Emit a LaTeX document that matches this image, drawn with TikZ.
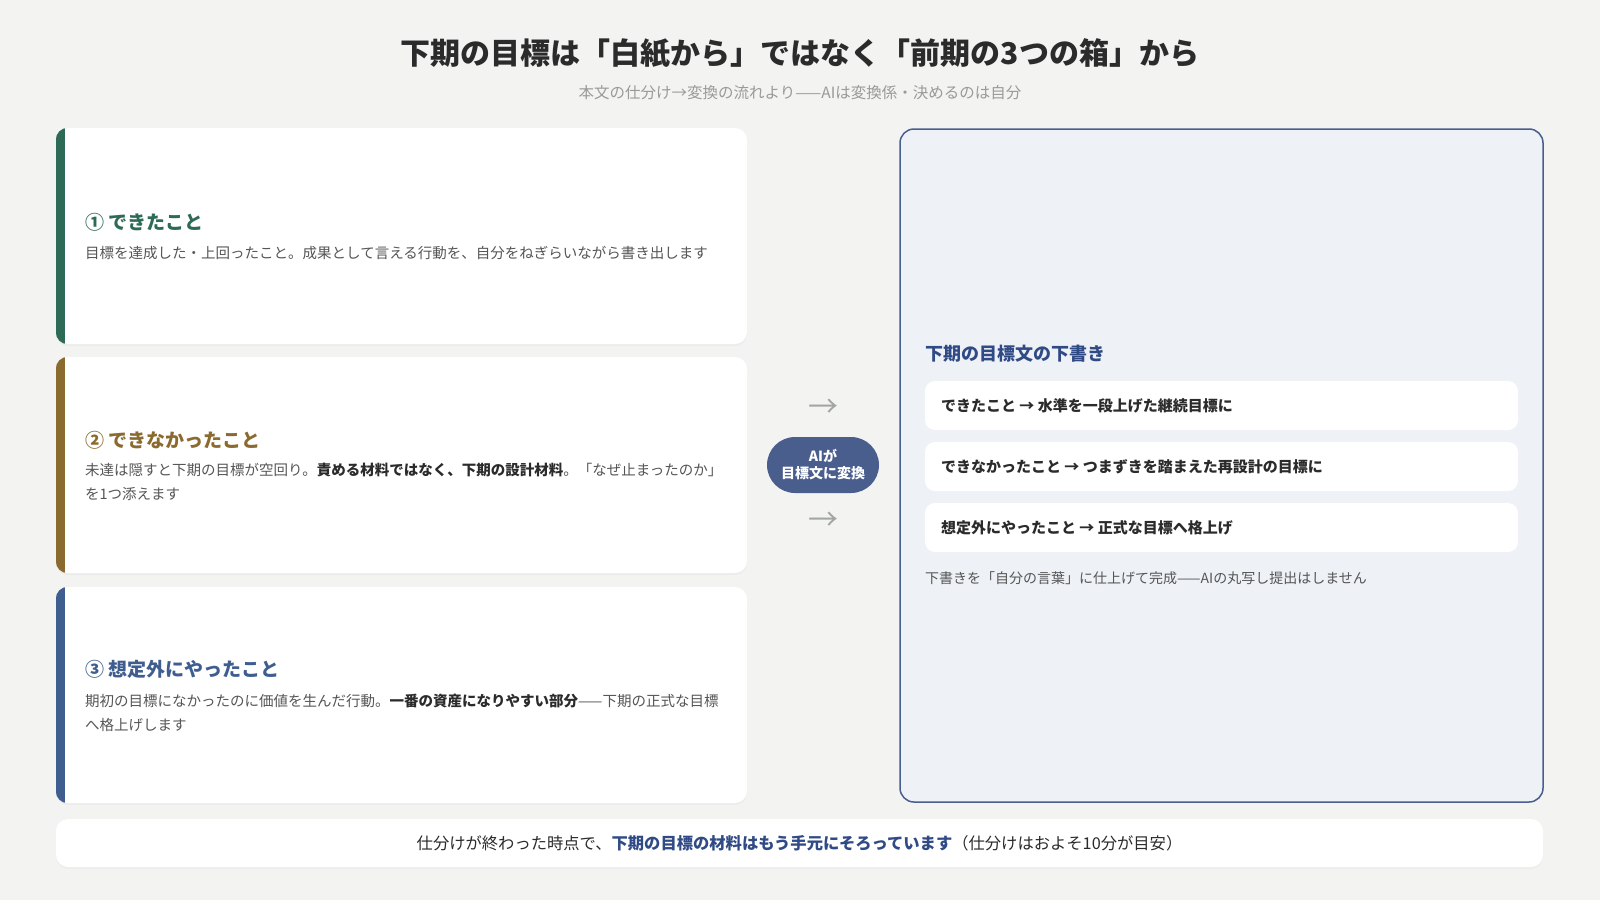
\documentclass[tikz,border=0pt]{standalone}
\usepackage{fontspec}
\setmainfont{Noto Sans CJK JP}
\usetikzlibrary{positioning,shadows}

\definecolor{pagebg}{HTML}{F3F3F2}
\definecolor{inkdark}{HTML}{2B2B2B}
\definecolor{inkgray}{HTML}{555555}
\definecolor{inklight}{HTML}{9A9A9A}
\definecolor{donegreen}{HTML}{2E6B57}
\definecolor{missbrown}{HTML}{8A6A2E}
\definecolor{extrablue}{HTML}{3F5E8F}
\definecolor{pillblue}{HTML}{4A5E8E}
\definecolor{draftbg}{HTML}{EEF1F6}
\definecolor{draftblue}{HTML}{2F4A85}
\definecolor{arrowgray}{HTML}{A0A6A0}

\begin{document}
\begin{tikzpicture}[x=1pt, y=-1pt,
    card/.style ={fill=white, rounded corners=12pt, inner sep=0pt,
        minimum width=691pt, minimum height=216pt,
        drop shadow={opacity=0.06, shadow xshift=0pt, shadow yshift=-2pt}},
    cardtitle/.style ={anchor=west, inner sep=0pt, font=\fontsize{19}{23}\selectfont\bfseries},
    carddesc/.style ={anchor=north west, inner sep=0pt, align=left, text=inkgray,
        font=\fontsize{14.5}{23.5}\selectfont},
    draftitem/.style ={fill=white, rounded corners=10pt, inner sep=0pt,
        minimum width=593pt, minimum height=49pt},
    itemtext/.style ={anchor=west, inner sep=0pt, text=inkdark,
        font=\fontsize{15}{18}\selectfont\bfseries},
    flowarrow/.style ={text=arrowgray, inner sep=0pt, font=\fontsize{30}{30}\selectfont}]

   \useasboundingbox (0,0) rectangle (1600,900);
   \fill[pagebg] (0,0) rectangle (1600,900);

   % heading
   \node[text=inkdark, font=\fontsize{30}{36}\selectfont\bfseries] (title) at (800,53)
      {下期の目標は「白紙から」ではなく「前期の3つの箱」から};
   \node[text=inklight, font=\fontsize{15.5}{18}\selectfont] (subtitle) at (800,93)
      {本文の仕分け→変換の流れより——AIは変換係・決めるのは自分};

   % the three boxes
   \node[card] (done)  at (401.5,236) {};
   \node[card] (miss)  at (401.5,465) {};
   \node[card] (extra) at (401.5,695) {};

   \begin{scope}
     \clip[rounded corners=12pt] (done.north west) rectangle (done.south east);
     \fill[donegreen] (done.north west) rectangle ([xshift=9pt]done.south west);
   \end{scope}
   \begin{scope}
     \clip[rounded corners=12pt] (miss.north west) rectangle (miss.south east);
     \fill[missbrown] (miss.north west) rectangle ([xshift=9pt]miss.south west);
   \end{scope}
   \begin{scope}
     \clip[rounded corners=12pt] (extra.north west) rectangle (extra.south east);
     \fill[extrablue] (extra.north west) rectangle ([xshift=9pt]extra.south west);
   \end{scope}

   \node[cardtitle, text=donegreen] (doneT) at (85,222) {① できたこと};
   \node[carddesc] (doneD) at (85,246)
      {目標を達成した・上回ったこと。成果として言える行動を、自分をねぎらいながら書き出します};

   \node[cardtitle, text=missbrown] (missT) at (85,440) {② できなかったこと};
   \node[carddesc] (missD) at (85,463)
      {未達は隠すと下期の目標が空回り。\textcolor{inkdark}{\bfseries 責める材料ではなく、下期の設計材料}。「なぜ止まったのか」\\
       を1つ添えます};

   \node[cardtitle, text=extrablue] (extraT) at (85,669) {③ 想定外にやったこと};
   \node[carddesc] (extraD) at (85,694)
      {期初の目標になかったのに価値を生んだ行動。\textcolor{inkdark}{\bfseries 一番の資産になりやすい部分}——下期の正式な目標\\
       へ格上げします};

   % converter
   \node[fill=pillblue, rounded corners=28pt, minimum width=112pt, minimum height=56pt,
      inner sep=0pt, align=center, text=white,
      font=\fontsize{14}{17}\selectfont\bfseries] (pill) at (823,465) {AIが\\目標文に変換};
   \node[flowarrow] (arrowA) at (823,408) {→};
   \node[flowarrow] (arrowB) at (823,521) {→};

   % draft panel
   \node[fill=draftbg, draw=pillblue, line width=1.5pt, rounded corners=14pt,
      minimum width=643pt, minimum height=673pt] (draft) at (1221.5,465.5) {};
   \node[anchor=west, inner sep=0pt, text=draftblue,
      font=\fontsize{18}{22}\selectfont\bfseries] (draftT) at (925,354) {下期の目標文の下書き};

   \node[draftitem] (item1) at (1221.5,405.5) {};
   \node[draftitem] (item2) at (1221.5,466.5) {};
   \node[draftitem] (item3) at (1221.5,527.5) {};
   \node[itemtext] at ([xshift=16pt]item1.west) {できたこと → 水準を一段上げた継続目標に};
   \node[itemtext] at ([xshift=16pt]item2.west) {できなかったこと → つまずきを踏まえた再設計の目標に};
   \node[itemtext] at ([xshift=16pt]item3.west) {想定外にやったこと → 正式な目標へ格上げ};

   \node[anchor=west, inner sep=0pt, text=inkgray,
      font=\fontsize{14}{17}\selectfont] (draftN) at (925,578)
      {下書きを「自分の言葉」に仕上げて完成——AIの丸写し提出はしません};

   % bottom line
   \node[fill=white, rounded corners=12pt, minimum width=1487pt, minimum height=48pt,
      drop shadow={opacity=0.05, shadow xshift=0pt, shadow yshift=-2pt},
      text=inkdark, font=\fontsize{16.3}{19}\selectfont] (bottom) at (799.5,843)
      {仕分けが終わった時点で、\textcolor{draftblue}{\bfseries 下期の目標の材料はもう手元にそろっています}（仕分けはおよそ10分が目安）};
 \end{tikzpicture}
\end{document}
